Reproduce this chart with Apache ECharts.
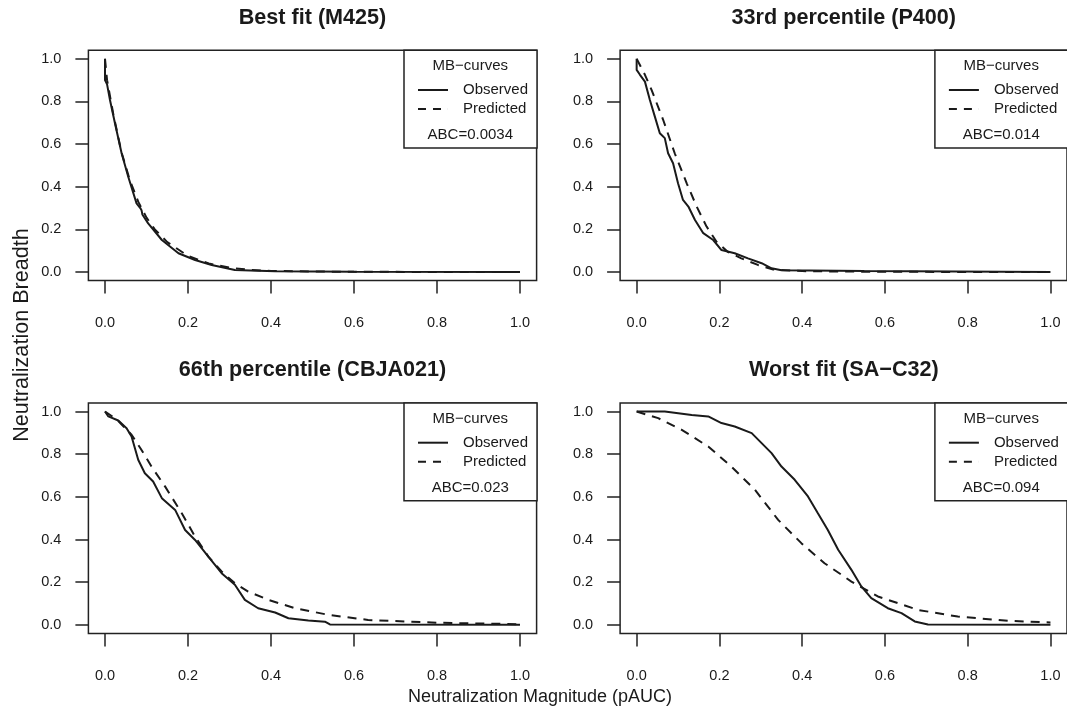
<!DOCTYPE html>
<html>
<head>
<meta charset="utf-8">
<title>MB-curves</title>
<script src="https://cdn.jsdelivr.net/npm/echarts@6/dist/echarts.min.js"></script>
<style>
  html, body { margin: 0; padding: 0; background: #fff; }
  #main { width: 1067px; height: 714px; }
</style>
</head>
<body>
<div id="main"></div>
<script>
// tick labels shared by all panels
var tickValues = [0, 0.2, 0.4, 0.6, 0.8, 1.0];

// panel titles and ABC values
var panelTitles = ['Best fit (M425)', '33rd percentile (P400)', '66th percentile (CBJA021)', 'Worst fit (SA\u2212C32)'];
var abcValues = ['ABC=0.0034', 'ABC=0.014', 'ABC=0.023', 'ABC=0.094'];

// Best fit (M425)
var bestObsX = [0, 0, 0.005, 0.012, 0.024, 0.040, 0.056, 0.076, 0.085, 0.088, 0.090, 0.104, 0.137, 0.177, 0.217, 0.257, 0.313, 0.35, 0.41, 0.6, 1.0];
var bestObsY = [1.0, 0.90, 0.88, 0.807, 0.698, 0.557, 0.447, 0.322, 0.30, 0.29, 0.27, 0.228, 0.150, 0.088, 0.056, 0.033, 0.009, 0.007, 0.003, 0.001, 0];
var bestPredX = [0, 0.005, 0.02, 0.04, 0.06, 0.08, 0.10, 0.12, 0.15, 0.20, 0.25, 0.30, 0.35, 0.40, 0.50, 0.60, 0.80, 1.0];
var bestPredY = [1.0, 0.90, 0.74, 0.56, 0.43, 0.33, 0.255, 0.20, 0.14, 0.075, 0.04, 0.02, 0.01, 0.005, 0.002, 0.001, 0, 0];

// 33rd percentile (P400)
var p33ObsX = [0, 0, 0.008, 0.020, 0.032, 0.044, 0.056, 0.068, 0.076, 0.088, 0.100, 0.112, 0.125, 0.141, 0.161, 0.185, 0.205, 0.237, 0.269, 0.302, 0.326, 0.35, 0.55, 0.551, 1.0];
var p33ObsY = [1.0, 0.948, 0.925, 0.893, 0.807, 0.729, 0.651, 0.628, 0.557, 0.510, 0.416, 0.338, 0.307, 0.244, 0.182, 0.150, 0.103, 0.088, 0.064, 0.041, 0.017, 0.008, 0.005, 0, 0];
var p33PredX = [0, 0.02, 0.036, 0.064, 0.092, 0.121, 0.145, 0.169, 0.193, 0.22, 0.253, 0.293, 0.33, 0.40, 0.50, 0.60, 0.80, 1.0];
var p33PredY = [1.0, 0.925, 0.854, 0.714, 0.557, 0.416, 0.307, 0.213, 0.142, 0.095, 0.064, 0.033, 0.012, 0.004, 0.002, 0.001, 0, 0];

// 66th percentile (CBJA021)
var p66ObsX = [0, 0.008, 0.032, 0.052, 0.064, 0.080, 0.096, 0.116, 0.137, 0.169, 0.193, 0.217, 0.249, 0.281, 0.313, 0.337, 0.369, 0.41, 0.442, 0.490, 0.530, 0.542, 1.0];
var p66ObsY = [1.0, 0.977, 0.958, 0.922, 0.883, 0.774, 0.711, 0.672, 0.594, 0.539, 0.445, 0.398, 0.320, 0.242, 0.188, 0.117, 0.078, 0.058, 0.031, 0.020, 0.015, 0.002, 0];
var p66PredX = [0, 0.03, 0.064, 0.088, 0.112, 0.145, 0.185, 0.217, 0.249, 0.281, 0.313, 0.345, 0.394, 0.458, 0.538, 0.634, 0.80, 1.0];
var p66PredY = [1.0, 0.96, 0.891, 0.820, 0.742, 0.648, 0.523, 0.414, 0.320, 0.250, 0.195, 0.156, 0.117, 0.078, 0.047, 0.023, 0.010, 0.003];

// Worst fit (SA-C32)
var worstObsX = [0, 0.068, 0.133, 0.173, 0.205, 0.237, 0.278, 0.302, 0.326, 0.350, 0.382, 0.414, 0.438, 0.462, 0.487, 0.519, 0.543, 0.567, 0.607, 0.640, 0.672, 0.704, 1.0];
var worstObsY = [1.0, 1.0, 0.984, 0.977, 0.946, 0.930, 0.899, 0.852, 0.805, 0.742, 0.680, 0.602, 0.523, 0.445, 0.352, 0.258, 0.180, 0.125, 0.078, 0.055, 0.016, 0.002, 0];
var worstPredX = [0, 0.052, 0.109, 0.173, 0.229, 0.286, 0.342, 0.398, 0.454, 0.519, 0.583, 0.680, 0.776, 0.897, 1.0];
var worstPredY = [1.0, 0.969, 0.914, 0.836, 0.742, 0.633, 0.492, 0.383, 0.289, 0.203, 0.133, 0.070, 0.039, 0.019, 0.011];

var obsX = [bestObsX, p33ObsX, p66ObsX, worstObsX];
var obsY = [bestObsY, p33ObsY, p66ObsY, worstObsY];
var predX = [bestPredX, p33PredX, p66PredX, worstPredX];
var predY = [bestPredY, p33PredY, p66PredY, worstPredY];

function zip(xs, ys) {
  var out = [];
  for (var i = 0; i < xs.length; i++) out.push([xs[i], ys[i]]);
  return out;
}

var FONT = "'Liberation Sans', Arial, Helvetica, sans-serif";
var INK = '#1a1a1a';

// panel boxes (plot region incl. R's 4% expansion)
var boxes = [
  { left: 88.4, top: 50.3, width: 448.2, height: 230.2 },
  { left: 620.1, top: 50.3, width: 447.4, height: 230.2 },
  { left: 88.4, top: 403, width: 448.2, height: 230.4 },
  { left: 620.1, top: 403, width: 447.4, height: 230.4 }
];

// legend keys: solid bar and two dashes (thin sliver keeps the 30px width)
var solidIcon = 'path://M0,0h30v2h-30z';
var dashIcon = 'path://M0,0h8v2h-8z M15,0h8v2h-8z M29.95,0h0.05v2h-0.05z';

var grid = [], xAxis = [], yAxis = [], series = [], legend = [], title = [];

boxes.forEach(function (b, i) {
  grid.push({
    left: b.left, top: b.top, width: b.width, height: b.height,
    show: true, borderColor: '#222', borderWidth: 1.5, backgroundColor: 'transparent'
  });
  xAxis.push({
    type: 'value', gridIndex: i, min: -0.04, max: 1.04,
    axisLine: { show: false, onZero: false },
    splitLine: { show: false },
    axisTick: { show: true, inside: false, length: 13, customValues: tickValues, lineStyle: { color: '#222', width: 1.5 } },
    axisLabel: {
      customValues: tickValues, margin: 35, color: INK, fontSize: 14.5, fontFamily: FONT,
      formatter: function (v) { return v.toFixed(1); }
    }
  });
  yAxis.push({
    type: 'value', gridIndex: i, min: -0.04, max: 1.04,
    axisLine: { show: false, onZero: false },
    splitLine: { show: false },
    axisTick: { show: true, inside: false, length: 13, customValues: tickValues, lineStyle: { color: '#222', width: 1.5 } },
    axisLabel: {
      customValues: tickValues, margin: 27, color: INK, fontSize: 14.5, fontFamily: FONT,
      formatter: function (v) { return v.toFixed(1); }
    }
  });
  series.push({
    name: 'Observed', type: 'line', xAxisIndex: i, yAxisIndex: i,
    data: zip(obsX[i], obsY[i]), symbol: 'none', z: 3,
    lineStyle: { color: INK, width: 2 }, itemStyle: { color: INK }
  });
  series.push({
    name: 'Predicted', type: 'line', xAxisIndex: i, yAxisIndex: i,
    data: zip(predX[i], predY[i]), symbol: 'none', z: 2,
    lineStyle: { color: INK, width: 2, type: [9, 7] }, itemStyle: { color: INK }
  });

  var legLeft = b.left + b.width - 132.6;
  legend.push({
    data: [{ name: 'Observed', icon: solidIcon }, { name: 'Predicted', icon: dashIcon }],
    orient: 'vertical',
    left: legLeft, top: b.top,
    padding: [30.2, 9, 29.5, 14],
    itemWidth: 30, itemHeight: 2, itemGap: 0,
    borderColor: '#222', borderWidth: 1.5, backgroundColor: '#fff',
    selectedMode: false,
    textStyle: { color: INK, fontSize: 15, fontFamily: FONT, lineHeight: 19, padding: [0, 0, 0, 10] }
  });
  var cx = legLeft + 66.3;
  title.push({
    text: 'MB\u2212curves', left: cx, top: b.top + 8.5, textAlign: 'center',
    textStyle: { color: INK, fontSize: 15, fontWeight: 'normal', fontFamily: FONT }, padding: 0
  });
  title.push({
    text: abcValues[i], left: cx, top: b.top + 77.5, textAlign: 'center',
    textStyle: { color: INK, fontSize: 15, fontWeight: 'normal', fontFamily: FONT }, padding: 0
  });
  // panel heading, centred over the 0..1 range
  title.push({
    text: panelTitles[i], left: b.left + b.width / 2, top: b.top - 43.5, textAlign: 'center',
    textStyle: { color: INK, fontSize: 21.6, fontWeight: 'bold', fontFamily: FONT }, padding: 0
  });
});

title.push({
  text: 'Neutralization Magnitude (pAUC)', left: 540, top: 688, textAlign: 'center',
  textStyle: { color: INK, fontSize: 18, fontWeight: 'normal', fontFamily: FONT }, padding: 0
});

var chart = echarts.init(document.getElementById('main'), null, { renderer: 'canvas' });
chart.setOption({
  animation: false,
  backgroundColor: '#fff',
  title: title,
  grid: grid,
  xAxis: xAxis,
  yAxis: yAxis,
  legend: legend,
  series: series,
  graphic: [{
    type: 'text', x: 22, y: 335, rotation: Math.PI / 2,
    style: {
      text: 'Neutralization Breadth', fill: INK, font: '21.6px ' + FONT,
      align: 'center', verticalAlign: 'middle'
    }
  }]
});
</script>
</body>
</html>
